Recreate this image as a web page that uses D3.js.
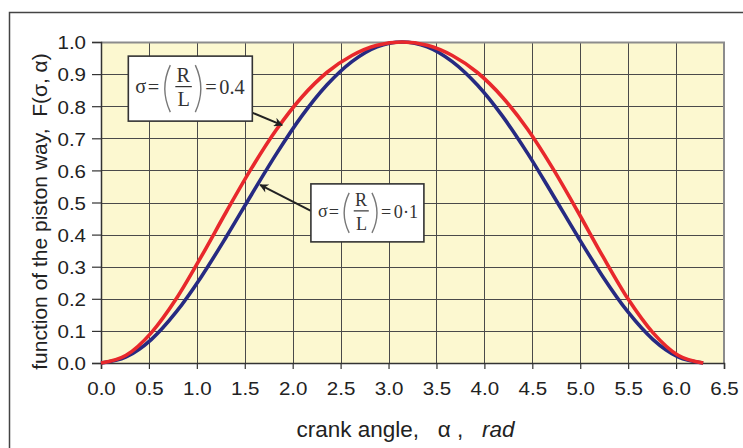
<!DOCTYPE html>
<html>
<head>
<meta charset="utf-8">
<script src="https://cdn.jsdelivr.net/npm/d3@7"></script>
<style>
  body { margin: 0; background: #fff; }
  text { font-family: "Liberation Sans", Arial, sans-serif; }
</style>
</head>
<body>
<div id="chart"></div>
<script>
// crank angle (rad) and piston way function for the two sigma values
const alphaRad = [0, 0.262, 0.524, 0.785, 1.047, 1.309, 1.571, 1.833, 2.094, 2.356, 2.618, 2.880, 3.142,
                  3.403, 3.665, 3.927, 4.189, 4.451, 4.712, 4.974, 5.236, 5.498, 5.760, 6.021, 6.283]
const fSigma04 = [0, 0.024, 0.094, 0.200, 0.332, 0.472, 0.607, 0.728, 0.828, 0.905, 0.958, 0.990, 1.000,
                  0.990, 0.958, 0.905, 0.828, 0.728, 0.607, 0.472, 0.332, 0.200, 0.094, 0.024, 0]
const fSigma01 = [0, 0.019, 0.073, 0.159, 0.269, 0.394, 0.525, 0.653, 0.769, 0.866, 0.939, 0.985, 1.000,
                  0.985, 0.939, 0.866, 0.769, 0.653, 0.525, 0.394, 0.269, 0.159, 0.073, 0.019, 0]

const xTicks = [0, 0.5, 1.0, 1.5, 2.0, 2.5, 3.0, 3.5, 4.0, 4.5, 5.0, 5.5, 6.0, 6.5]
const yTicks = [0, 0.1, 0.2, 0.3, 0.4, 0.5, 0.6, 0.7, 0.8, 0.9, 1.0]

const seriesColors = ["#e8282c", "#262a82"]

// label boxes: top-left corner and arrow in data units
const notes = [
    { label: "0.4", ax: 0.285, ay: 0.956, w: 124, h: 65, fromA: 1.56, fromF: 0.782, toA: 1.89, toF: 0.741 },
    { label: "0·1", ax: 2.19, ay: 0.558, w: 113, h: 58, fromA: 2.19, fromF: 0.474, toA: 1.66, toF: 0.555 }
]

const margin = { top: 42, left: 101, right: 19, bot: 85 }
const sizing = { width: 743, height: 448 }
const innerW = sizing.width - margin.left - margin.right
const innerH = sizing.height - margin.top - margin.bot

const svg = d3.select("#chart").append("svg")
    .attr("width", sizing.width)
    .attr("height", sizing.height)

// outer frame
svg.append("rect")
    .attr("x", 9.5).attr("y", 12.5)
    .attr("width", 760).attr("height", 460)
    .attr("fill", "none")
    .attr("stroke", "#444")
    .attr("stroke-width", 1.5)

const g = svg.append("g").attr("transform", `translate(${margin.left},${margin.top})`)

const x = d3.scaleLinear().domain([0, 6.5]).range([0, innerW])
const y = d3.scaleLinear().domain([0, 1]).range([innerH, 0])

g.append("rect")
    .attr("width", innerW).attr("height", innerH)
    .attr("fill", "#fcf8d0")

// grid
g.append("g").selectAll("line").data(xTicks.slice(1, -1)).join("line")
    .attr("x1", d => Math.round(x(d)) + 0.5).attr("x2", d => Math.round(x(d)) + 0.5)
    .attr("y1", 0).attr("y2", innerH)
    .attr("stroke", "#4a4a4a").attr("stroke-width", 1)
g.append("g").selectAll("line").data(yTicks.slice(1, -1)).join("line")
    .attr("y1", d => Math.round(y(d)) + 0.5).attr("y2", d => Math.round(y(d)) + 0.5)
    .attr("x1", 0).attr("x2", innerW)
    .attr("stroke", "#4a4a4a").attr("stroke-width", 1)

// top and right border
g.append("path")
    .attr("d", `M0,0.5H${innerW}V${innerH}`)
    .attr("fill", "none")
    .attr("stroke", "#8c8c8c").attr("stroke-width", 2)

const ejeX = d3.axisBottom(x).tickValues(xTicks).tickFormat(d3.format(".1f")).tickSizeOuter(0).tickSize(6).tickPadding(13)
const ejeY = d3.axisLeft(y).tickValues(yTicks).tickFormat(d3.format(".1f")).tickSizeOuter(0).tickSize(9).tickPadding(6)

const xGroup = g.append("g").attr("transform", `translate(0,${innerH})`).call(ejeX)
const yGroup = g.append("g").call(ejeY)

for (const ax of [xGroup, yGroup]) {
    ax.select(".domain").attr("stroke", "#333").attr("stroke-width", 1.5)
    ax.selectAll(".tick line").attr("stroke", "#333").attr("stroke-width", 1.2)
    ax.selectAll(".tick text")
        .attr("fill", "#222")
        .style("font-size", "19px")
        .style("font-family", "'Liberation Sans', Arial, sans-serif")
        // the reference lettering is a bit wider than the font
        .each(function() {
            const w = this.getComputedTextLength()
            d3.select(this).attr("textLength", w * 1.08).attr("lengthAdjust", "spacingAndGlyphs")
        })
}
yGroup.selectAll(".tick text").attr("dy", "0.36em")

// curves
const line = d3.line()
    .x((d, i) => x(alphaRad[i]))
    .y(d => y(d))
    .curve(d3.curveMonotoneX)

;[fSigma01, fSigma04].forEach((vals, k) => {
    g.append("path")
        .datum(vals)
        .attr("d", line)
        .attr("fill", "none")
        .attr("stroke", seriesColors[1 - k])
        .attr("stroke-width", 3.6)
        .attr("stroke-linejoin", "round")
})

// arrow marker
svg.append("defs").append("marker")
    .attr("id", "arr")
    .attr("viewBox", "0 0 10 10")
    .attr("refX", 9).attr("refY", 5)
    .attr("markerWidth", 12).attr("markerHeight", 9)
    .attr("markerUnits", "userSpaceOnUse")
    .attr("orient", "auto")
    .append("path").attr("d", "M0,0L10,5L0,10L3,5Z").attr("fill", "#222")

notes.forEach(n => {
    g.append("line")
        .attr("x1", x(n.fromA)).attr("y1", y(n.fromF))
        .attr("x2", x(n.toA)).attr("y2", y(n.toF))
        .attr("stroke", "#222").attr("stroke-width", 2)
        .attr("marker-end", "url(#arr)")
    const x0 = x(n.ax), y0 = y(n.ay)
    const box = g.append("g").attr("transform", `translate(${x0},${y0})`)
    box.append("rect")
        .attr("width", n.w).attr("height", n.h)
        .attr("fill", "#fff")
        .attr("stroke", "#333").attr("stroke-width", 1.6)
    const cy = n.h / 2
    const s = n.w / 124
    const fs = n.h / 3.2
    const t = (txt, tx, ty, anchor) => box.append("text")
        .text(txt)
        .attr("x", tx).attr("y", ty)
        .attr("text-anchor", anchor || "start")
        .attr("fill", "#333")
        .style("font-family", "'Liberation Serif', 'Times New Roman', serif")
        .style("font-size", fs + "px")
    t("σ", 7, cy + 4)
    t("=", 19.5 * s, cy + 5)
    t("R", 55 * s, cy - 6.5, "middle")
    t("L", 55.5 * s, cy + 17.5, "middle")
    t("=", 77 * s, cy + 5)
    t(n.label, 91 * s, cy + 5)
    box.append("line")
        .attr("x1", 47 * s).attr("x2", 63.5 * s)
        .attr("y1", cy - 2).attr("y2", cy - 2)
        .attr("stroke", "#333").attr("stroke-width", 1.2)
    const ph = cy - 9
    box.append("path")
        .attr("d", `M${42 * s},${cy - ph}Q${31 * s},${cy} ${42 * s},${cy + ph}`)
        .attr("fill", "none").attr("stroke", "#777").attr("stroke-width", 1.4)
    box.append("path")
        .attr("d", `M${67 * s},${cy - ph}Q${78 * s},${cy} ${67 * s},${cy + ph}`)
        .attr("fill", "none").attr("stroke", "#777").attr("stroke-width", 1.4)
})

// axis titles
svg.append("text")
    .attr("transform", `translate(47,${margin.top + innerH / 2 + 9}) rotate(-90)`)
    .attr("text-anchor", "middle")
    .attr("fill", "#222")
    .style("font-size", "21px")
    .style("white-space", "pre")
    .text("function of the piston way,  F(σ, α)")

const xt = svg.append("text")
    .attr("x", margin.left + innerW / 2 - 7)
    .attr("y", 437)
    .attr("text-anchor", "middle")
    .attr("fill", "#222")
    .style("font-size", "22.5px")
    .style("white-space", "pre")
xt.append("tspan").text("crank angle,   α ,   ")
xt.append("tspan").style("font-style", "italic").text("rad")
</script>
</body>
</html>
